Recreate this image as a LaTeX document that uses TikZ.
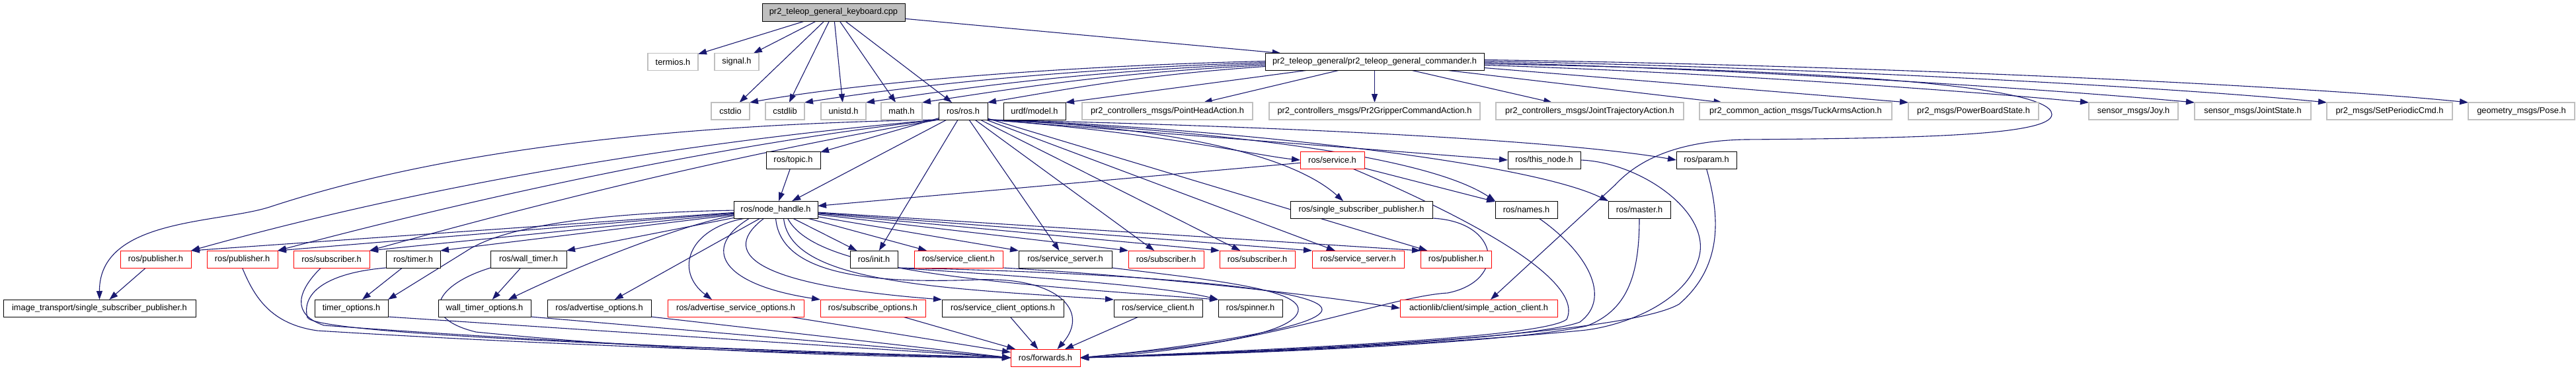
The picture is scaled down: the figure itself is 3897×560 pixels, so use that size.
\documentclass[tikz,border=0pt]{standalone}
\usepackage{fontspec}
\setmainfont{Liberation Sans}
\usetikzlibrary{arrows.meta,calc}
\pgfdeclarelayer{background}
\pgfsetlayers{background,main}
\definecolor{edgeblue}{HTML}{191970}
\definecolor{graybd}{HTML}{BFBFBF}
\definecolor{rootfill}{HTML}{BFBFBF}
\definecolor{redbd}{HTML}{FF0000}
\tikzset{
  nbox/.style={rectangle, draw, fill=white, inner sep=0pt, outer sep=0pt, minimum height=26pt, line width=1pt, font=\fontsize{12.8pt}{15pt}\selectfont, text=black},
  gnode/.style={nbox, draw=graybd, line width=1.2pt},
  bnode/.style={nbox, draw=black},
  rnode/.style={nbox, draw=redbd},
  rootnode/.style={nbox, draw=black, fill=rootfill, minimum height=27pt},
  dep/.style={draw=edgeblue, line width=1.1pt, -{Triangle[length=13pt,width=9pt]}},
}
\begin{document}
\begin{tikzpicture}[x=1pt,y=-1pt]
\useasboundingbox (0,0) rectangle (3897,560);
\begin{pgfonlayer}{background}
\fill[white] (0,0) rectangle (3897,560);
\end{pgfonlayer}
% row 1
\node[rootnode, minimum width=216pt] (root) at (1261,18.5) {pr2\_teleop\_general\_keyboard.cpp};
% row 2
\node[gnode, minimum width=76pt] (termios) at (1018,93.5) {termios.h};
\node[gnode, minimum width=67pt] (signal) at (1114.5,93.5) {signal.h};
\node[bnode, minimum width=331pt] (cmd) at (2079.5,93.5) {pr2\_teleop\_general/pr2\_teleop\_general\_commander.h};
% row 3
\node[gnode, minimum width=58pt] (cstdio) at (1105,168) {cstdio};
\node[gnode, minimum width=59pt] (cstdlib) at (1187.5,168) {cstdlib};
\node[gnode, minimum width=68pt] (unistd) at (1276,168) {unistd.h};
\node[gnode, minimum width=62pt] (math) at (1364,168) {math.h};
\node[bnode, minimum width=74pt] (ros) at (1457,168) {ros/ros.h};
\node[bnode, minimum width=94pt] (urdf) at (1565,168) {urdf/model.h};
\node[gnode, minimum width=258pt] (phead) at (1766,168) {pr2\_controllers\_msgs/PointHeadAction.h};
\node[gnode, minimum width=319pt] (grip) at (2079.5,168) {pr2\_controllers\_msgs/Pr2GripperCommandAction.h};
\node[gnode, minimum width=284pt] (jtraj) at (2405,168) {pr2\_controllers\_msgs/JointTrajectoryAction.h};
\node[gnode, minimum width=291pt] (tuck) at (2716.5,168) {pr2\_common\_action\_msgs/TuckArmsAction.h};
\node[gnode, minimum width=197pt] (power) at (2985.5,168) {pr2\_msgs/PowerBoardState.h};
\node[gnode, minimum width=135pt] (joy) at (3227.5,168) {sensor\_msgs/Joy.h};
\node[gnode, minimum width=176pt] (jstate) at (3408,168) {sensor\_msgs/JointState.h};
\node[gnode, minimum width=190pt] (setper) at (3615,168) {pr2\_msgs/SetPeriodicCmd.h};
\node[gnode, minimum width=161pt] (pose) at (3814.5,168) {geometry\_msgs/Pose.h};
% row 4
\node[bnode, minimum width=82pt] (topic) at (1200,242) {ros/topic.h};
\node[rnode, minimum width=97pt] (service) at (2015.5,242) {ros/service.h};
\node[bnode, minimum width=110pt] (thisnode) at (2336,242) {ros/this\_node.h};
\node[bnode, minimum width=91pt] (param) at (2581.5,242) {ros/param.h};
% row 4.5
\node[bnode, minimum width=127pt] (nh) at (1173.5,317) {ros/node\_handle.h};
\node[bnode, minimum width=215pt] (rssp) at (2059.5,317) {ros/single\_subscriber\_publisher.h};
\node[bnode, minimum width=94pt] (names) at (2309,317) {ros/names.h};
\node[bnode, minimum width=94pt] (master) at (2480,317) {ros/master.h};
% row 5
\node[rnode, minimum width=107pt] (pub1) at (235.5,392) {ros/publisher.h};
\node[rnode, minimum width=107pt] (pub2) at (366.5,392) {ros/publisher.h};
\node[rnode, minimum width=115pt] (sub1) at (501.5,392) {ros/subscriber.h};
\node[bnode, minimum width=82pt] (timer) at (625,392) {ros/timer.h};
\node[bnode, minimum width=115pt] (wtimer) at (799.5,392) {ros/wall\_timer.h};
\node[bnode, minimum width=72pt] (init) at (1322,392) {ros/init.h};
\node[rnode, minimum width=134pt] (sclir) at (1450,392) {ros/service\_client.h};
\node[bnode, minimum width=141pt] (ssrv) at (1611.5,392) {ros/service\_server.h};
\node[rnode, minimum width=114pt] (sub2) at (1764,392) {ros/subscriber.h};
\node[rnode, minimum width=114pt] (sub3) at (1902,392) {ros/subscriber.h};
\node[rnode, minimum width=139pt] (ssrvr) at (2054.5,392) {ros/service\_server.h};
\node[rnode, minimum width=107pt] (pub3) at (2202.5,392) {ros/publisher.h};
% row 6
\node[bnode, minimum width=291pt] (itssp) at (150.5,466) {image\_transport/single\_subscriber\_publisher.h};
\node[bnode, minimum width=111pt] (topt) at (531.5,466) {timer\_options.h};
\node[bnode, minimum width=140pt] (wtopt) at (733,466) {wall\_timer\_options.h};
\node[bnode, minimum width=157pt] (aopt) at (906.5,466) {ros/advertise\_options.h};
\node[rnode, minimum width=206pt] (asopt) at (1113,466) {ros/advertise\_service\_options.h};
\node[rnode, minimum width=159pt] (sopt) at (1320.5,466) {ros/subscribe\_options.h};
\node[bnode, minimum width=184pt] (scopt) at (1517,466) {ros/service\_client\_options.h};
\node[bnode, minimum width=134pt] (scli) at (1752,466) {ros/service\_client.h};
\node[bnode, minimum width=97pt] (spin) at (1891.5,466) {ros/spinner.h};
\node[rnode, minimum width=238pt] (action) at (2237,466) {actionlib/client/simple\_action\_client.h};
% row 7
\node[rnode, minimum width=105pt] (fwd) at (1581.5,541) {ros/forwards.h};

\begin{pgfonlayer}{background}
% root
\draw[dep] (root) -- (termios);
\draw[dep] (root) -- (signal);
\draw[dep] (root) -- (cstdio);
\draw[dep] (root) -- (cstdlib);
\draw[dep] (root) -- (unistd);
\draw[dep] (root) -- (math);
\draw[dep] (root) -- (ros);
\draw[dep] (root) -- (cmd);
% commander
\draw[dep] ($(cmd.west)+(0,-1)$) .. controls (1600,100) and (1300,125) .. (cstdio.north east);
\draw[dep] ($(cmd.west)+(0,1)$) .. controls (1620,104) and (1390,128) .. (cstdlib.north east);
\draw[dep] ($(cmd.west)+(0,3)$) .. controls (1650,107) and (1470,131) .. (unistd.north east);
\draw[dep] ($(cmd.west)+(0,5)$) .. controls (1680,110) and (1540,133) .. (math.north east);
\draw[dep] ($(cmd.west)+(0,7)$) .. controls (1720,114) and (1620,134) .. (ros.north east);
\draw[dep] ($(cmd.south west)+(62,0)$) -- (urdf.north east);
\draw[dep] (cmd) -- (phead);
\draw[dep] (cmd) -- (grip);
\draw[dep] (cmd) -- (jtraj);
\draw[dep] (cmd) -- (tuck);
\draw[dep] ($(cmd.east)+(0,9)$) -- (power.north west);
\draw[dep] ($(cmd.east)+(0,5)$) .. controls (2550,108) and (2950,135) .. (joy.north west);
\draw[dep] ($(cmd.east)+(0,1)$) .. controls (2650,105) and (3100,135) .. (jstate.north west);
\draw[dep] ($(cmd.east)+(0,-1)$) .. controls (2750,102) and (3300,133) .. (setper.north west);
\draw[dep] ($(cmd.east)+(0,-3)$) .. controls (2850,99) and (3500,131) .. (pose.north west);
\draw[dep] ($(cmd.east)+(0,3)$) .. controls (2700,105) and (3104,125) .. (3104,173)
   .. controls (3104,205) and (2900,209) .. (2640,211)
   .. controls (2540,213) and (2480,240) .. (2443,280) -- ($(action.north)+(18,0)$);
% ros/ros.h
\draw[dep] (ros.south west) .. controls (900,190) and (600,250) .. (408,313)
   .. controls (330,338) and (150,330) .. (itssp.north);
\draw[dep] (ros.south west) .. controls (1200,200) and (750,250) .. (pub1.north east);
\draw[dep] (ros.south west) .. controls (1200,205) and (850,265) .. (pub2.north east);
\draw[dep] (ros.south west) .. controls (1250,210) and (980,262) .. (sub1.north east);
\draw[dep] (ros) -- (topic);
\draw[dep] (ros) -- (nh);
\draw[dep] (ros) -- (init);
\draw[dep] (ros) -- (ssrv);
\draw[dep] (ros) -- (sub2);
\draw[dep] (ros) -- (sub3);
\draw[dep] (ros) -- (ssrvr);
\draw[dep] (ros) -- (pub3);
\draw[dep] (ros.south east) .. controls (1750,190) and (1950,230) .. ($(rssp.north west)+(80,0)$);
\draw[dep] (ros.south east) .. controls (1750,200) and (1900,235) .. (service.west);
\draw[dep] (ros.south east) .. controls (1800,195) and (2150,230) .. (names.north west);
\draw[dep] (ros.south east) -- (thisnode.west);
\draw[dep] (ros.south east) .. controls (1800,190) and (2300,240) .. (master.north west);
\draw[dep] (ros.south east) .. controls (1900,190) and (2350,210) .. (param.west);
% node_handle
\draw[dep] (nh) -- (pub1.north east);
\draw[dep] (nh) -- (pub2.north east);
\draw[dep] (nh) -- (sub1.north east);
\draw[dep] (nh) -- (timer.north east);
\draw[dep] (nh) -- (wtimer.north east);
\draw[dep] (nh) .. controls (820,323) and (735,360) .. (705,380) -- (topt.north east);
\draw[dep] (nh) .. controls (1050,335) and (900,390) .. ($(wtopt.north)+(36,0)$);
\draw[dep] (nh) -- (aopt);
\draw[dep] ($(nh.south west)+(18,0)$) .. controls (1040,345) and (1020,410) .. ($(asopt.north west)+(67,0)$);
\draw[dep] ($(nh.south west)+(24,0)$) .. controls (1060,375) and (1090,430) .. (sopt.north west);
\draw[dep] ($(nh.south west)+(46,0)$) .. controls (1090,380) and (1130,430) .. (scopt.north west);
\draw[dep] (nh.south) .. controls (1180,410) and (1300,430) .. (1478,423)
   .. controls (1600,418) and (1650,470) .. ($(fwd.north)+(18,0)$);
\draw[dep] ($(nh.south)+(12,0)$) .. controls (1195,425) and (1400,435) .. (scli.north west);
\draw[dep] ($(nh.south)+(18,0)$) .. controls (1230,405) and (1450,425) .. (spin.north west);
\draw[dep] (nh) -- (init);
\draw[dep] (nh) -- (sclir);
\draw[dep] (nh) -- (ssrv.north west);
\draw[dep] (nh) -- (sub2.north west);
\draw[dep] (nh) -- (sub3.north west);
\draw[dep] (nh) -- (ssrvr.north west);
\draw[dep] (nh) -- (pub3.north west);
% others
\draw[dep] (topic) -- (nh);
\draw[dep] (service) -- (nh);
\draw[dep] (service) -- (names);
\draw[dep] (service) .. controls (2200,320) and (2400,420) .. (2370,483)
   .. controls (2340,505) and (2100,522) .. (fwd.east);
\draw[dep] (rssp.south east) .. controls (2270,335) and (2280,425) .. (2190,443)
   .. controls (2100,448) and (1900,528) .. (fwd.east);
\draw[dep] ($(names.south)+(19,0)$) .. controls (2400,380) and (2440,450) .. (2390,487)
   .. controls (2330,510) and (2000,530) .. (fwd.east);
\draw[dep] (master.south) .. controls (2480,420) and (2460,470) .. (2400,493)
   .. controls (2300,515) and (2000,532) .. (fwd.east);
\draw[dep] (thisnode.east) .. controls (2480,245) and (2590,320) .. (2570,390)
   .. controls (2550,460) and (2450,495) .. (2390,500)
   .. controls (2200,518) and (1900,535) .. (fwd.east);
\draw[dep] (param.south) .. controls (2600,320) and (2610,400) .. (2540,460)
   .. controls (2470,500) and (2100,525) .. (fwd.east);
\draw[dep] (ssrv.south east) .. controls (1850,425) and (1990,440) .. (1960,478)
   .. controls (1930,515) and (1750,530) .. (fwd.east);
\draw[dep] (init.south east) .. controls (1500,415) and (1750,430) .. (spin.north west);
\draw[dep] (init.south east) .. controls (1700,412) and (2000,435) .. (2000,468)
   .. controls (2000,495) and (1800,525) .. (fwd.east);
\draw[dep] (sclir.south east) .. controls (1700,415) and (1950,440) .. (action.west);
\draw[dep] (pub1) -- (itssp);
\draw[dep] (timer) -- (topt);
\draw[dep] (wtimer) -- (wtopt);
\draw[dep] (pub2.south) .. controls (385,450) and (410,490) .. (480,500)
   .. controls (800,520) and (1200,535) .. (fwd.west);
\draw[dep] ($(sub1.south)+(-16,0)$) .. controls (450,440) and (440,475) .. (490,492)
   .. controls (800,515) and (1200,535) .. (fwd.west);
\draw[dep] (timer.south west) .. controls (500,412) and (455,440) .. (465,480)
   .. controls (475,505) and (1000,525) .. (fwd.west);
\draw[dep] (wtimer.south west) .. controls (660,430) and (630,480) .. (720,502)
   .. controls (1000,530) and (1300,540) .. (fwd.west);
\draw[dep] (topt.south east) -- (fwd.west);
\draw[dep] (wtopt.south east) -- (fwd.west);
\draw[dep] (aopt.south east) -- (fwd.west);
\draw[dep] (asopt) -- (fwd);
\draw[dep] (sopt) -- (fwd);
\draw[dep] (scopt) -- (fwd);
\draw[dep] (scli) -- (fwd);
\end{pgfonlayer}
\end{tikzpicture}
\end{document}
